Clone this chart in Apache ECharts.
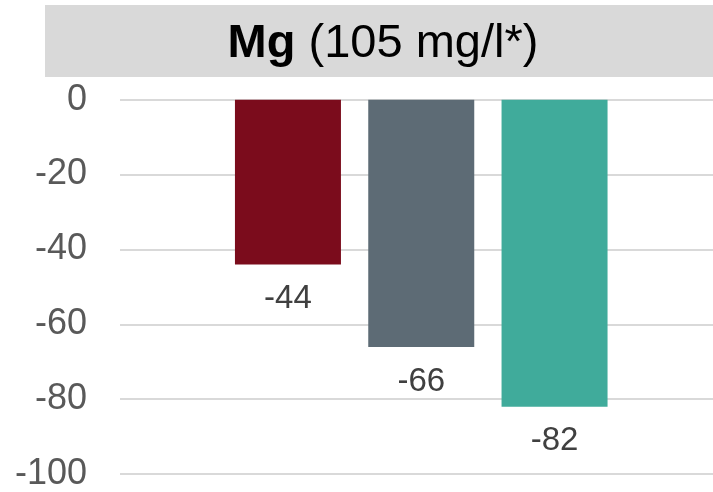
<!DOCTYPE html>
<html>
<head>
<meta charset="utf-8">
<style>
  html, body { margin: 0; padding: 0; background: #ffffff; }
  #chart { width: 713px; height: 492px; }
</style>
<script src="https://cdn.jsdelivr.net/npm/echarts@6/dist/echarts.min.js"></script>
</head>
<body>
<div id="chart"></div>
<script>
const categories = ['A', 'B', 'C'];
const values = [-44, -66, -82];
const barColors = ['#7b0c1c', '#5d6b75', '#40ab9b'];
const yTicks = [0, -20, -40, -60, -80, -100];
const titleBold = 'Mg';
const titleRest = ' (105 mg/l*)';

const FONT = '"Liberation Sans", Arial, sans-serif';
const chart = echarts.init(document.getElementById('chart'), null, { renderer: 'canvas' });

const option = {
  animation: false,
  backgroundColor: '#ffffff',
  graphic: [
    {
      type: 'rect', left: 45, top: 5, z: 0,
      shape: { width: 668, height: 72 },
      style: { fill: '#d9d9d9' }
    },
    {
      type: 'text', x: 383, y: 44, z: 10,
      style: {
        text: '{b|' + titleBold + '}' + titleRest,
        fontFamily: FONT, fontSize: 47, fill: '#000000',
        align: 'center', verticalAlign: 'middle',
        rich: { b: { fontWeight: 'bold', fontFamily: FONT, fontSize: 47, fill: '#000000' } }
      }
    }
  ],
  grid: [
    { left: 120, right: 0, top: 99.7, bottom: 17.7 },
    { left: 221.3, right: 91.8, top: 99.7, bottom: 17.7 }
  ],
  xAxis: [
    { gridIndex: 0, type: 'value', min: 0, max: 1, show: false },
    {
      gridIndex: 1, type: 'category', data: categories, position: 'top',
      axisLine: { show: false }, axisTick: { show: false }, axisLabel: { show: false },
      splitLine: { show: false }
    }
  ],
  yAxis: [
    {
      gridIndex: 0, type: 'value', min: Math.min(...yTicks), max: Math.max(...yTicks), interval: 20,
      axisLine: { show: false }, axisTick: { show: false },
      axisLabel: { color: '#595959', fontSize: 36, fontFamily: FONT, margin: 33 },
      splitLine: { show: true, lineStyle: { color: '#d9d9d9', width: 2 } }
    },
    {
      gridIndex: 1, type: 'value', min: Math.min(...yTicks), max: Math.max(...yTicks), interval: 20,
      show: false, splitLine: { show: false }
    }
  ],
  series: [
    {
      type: 'bar', xAxisIndex: 1, yAxisIndex: 1,
      data: values.map((v, i) => ({ value: v, itemStyle: { color: barColors[i] } })),
      barWidth: 106,
      label: {
        show: true, position: 'bottom', distance: 18,
        color: '#404040', fontSize: 33, fontFamily: FONT
      },
      z: 5
    }
  ]
};
chart.setOption(option);
</script>
</body>
</html>
